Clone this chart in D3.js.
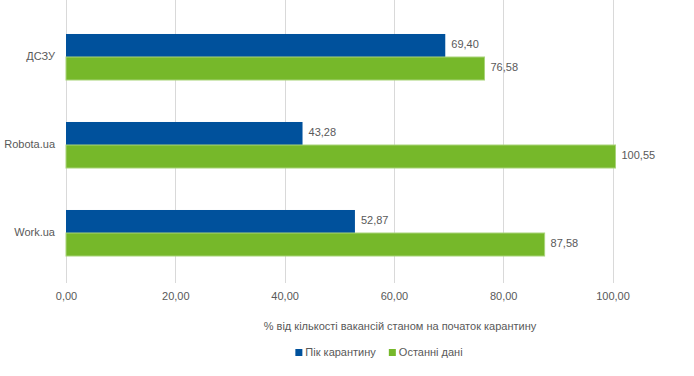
<!DOCTYPE html>
<html><head><meta charset="utf-8">
<script src="https://cdn.jsdelivr.net/npm/d3@7"></script>
<style>
body{margin:0;background:#fff;}
text{font-family:"Liberation Sans",Arial,sans-serif;fill:#595959;}
</style></head><body>
<svg id="c" width="694" height="376"></svg>
<script>
const categories = ["ДСЗУ", "Robota.ua", "Work.ua"];
const seriesNames = ["Пік карантину", "Останні дані"];
const peak = [69.40, 43.28, 52.87];
const latest = [76.58, 100.55, 87.58];
const tickValues = [0, 20, 40, 60, 80, 100];
const colors = ["#00519c", "#76b82a"];
const axisTitle = "% від кількості вакансій станом на початок карантину";

const FS = 11;
const svg = d3.select("#c");
const x = d3.scaleLinear().domain([0, 120]).range([66, 66 + 120 * 5.465]);
const y = d3.scaleBand().domain(categories).range([13, 277]).paddingInner(0.477).paddingOuter(0.2385);
const sub = d3.scaleBand().domain([0, 1]).range([0, y.bandwidth()]);
const fmt = v => v.toFixed(2).replace(".", ",");

// gridlines
svg.append("g").selectAll("line").data(tickValues).join("line")
  .attr("x1", d => Math.round(x(d)) + 0.5).attr("x2", d => Math.round(x(d)) + 0.5)
  .attr("y1", 0).attr("y2", 283)
  .attr("stroke", "#d9d9d9").attr("stroke-width", 1);

// tick labels
const ax = d3.axisBottom(x).tickValues(tickValues).tickFormat(fmt).tickSize(0).tickPadding(0);
const axg = svg.append("g").attr("transform", "translate(0,292)").call(ax);
axg.select(".domain").remove();
axg.selectAll("text").attr("font-size", FS).attr("fill", "#595959")
  .style("font-family", '"Liberation Sans",Arial,sans-serif');

// category labels
svg.append("g").selectAll("text").data(categories).join("text")
  .attr("x", 55).attr("y", d => y(d) + y.bandwidth() / 2)
  .attr("text-anchor", "end").attr("dominant-baseline", "middle")
  .attr("font-size", FS).text(d => d);

const series = [peak, latest];
series.forEach((vals, si) => {
  const g = svg.append("g");
  g.selectAll("rect").data(vals).join("rect")
    .attr("x", x(0)).attr("y", (d, i) => y(categories[i]) + sub(si))
    .attr("width", d => x(d) - x(0)).attr("height", sub.bandwidth())
    .attr("fill", colors[si])
    .attr("stroke", si === 1 ? "#a9d47a" : "none").attr("stroke-width", si === 1 ? 1 : 0);
  g.selectAll("text").data(vals).join("text")
    .attr("x", d => x(d) + 6).attr("y", (d, i) => y(categories[i]) + sub(si) + sub.bandwidth() / 2)
    .attr("dominant-baseline", "middle").attr("font-size", FS).text(d => fmt(d));
});

// axis title
svg.append("text").attr("x", 400).attr("y", 327).attr("text-anchor", "middle")
  .attr("dominant-baseline", "middle").attr("font-size", FS).text(axisTitle);

// legend
const lg = svg.append("g");
const items = seriesNames.map((n, i) => {
  const r = lg.append("rect").attr("y", 349).attr("width", 7).attr("height", 7).attr("fill", colors[i]);
  const t = lg.append("text").attr("y", 353).attr("dominant-baseline", "middle").attr("font-size", FS).text(n);
  return {r, t, w: t.node().getComputedTextLength()};
});
const total = items.reduce((s, it) => s + 10 + it.w, 0) + 13 * (items.length - 1);
let cx = 379 - total / 2;
items.forEach(it => {
  it.r.attr("x", cx); it.t.attr("x", cx + 10);
  cx += 10 + it.w + 13;
});
</script></body></html>
